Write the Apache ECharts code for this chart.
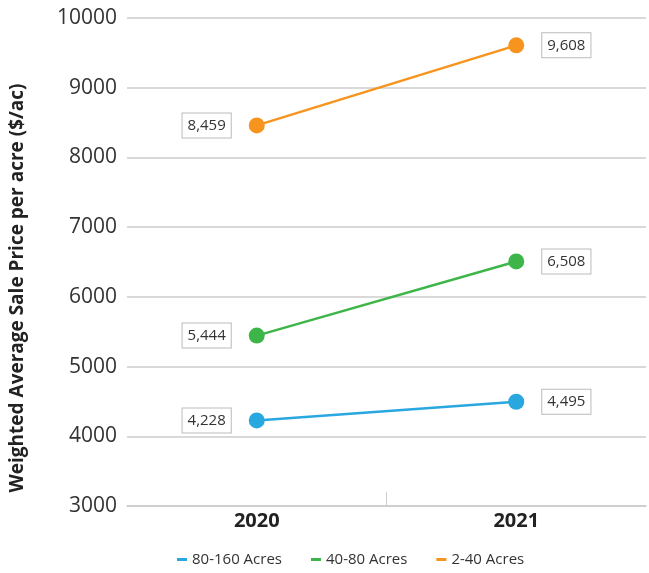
<!DOCTYPE html>
<html>
<head>
<meta charset="utf-8">
<script src="https://cdn.jsdelivr.net/npm/echarts@6/dist/echarts.min.js"></script>
<style>
  html, body { margin: 0; padding: 0; background: #fff; }
  #main { width: 649px; height: 573px; }
</style>
</head>
<body>
<div id="main"></div>
<script>
let years = ['2020', '2021'];
let seriesNames = ['80-160 Acres', '40-80 Acres', '2-40 Acres'];
let acres80to160 = [4228, 4495];
let acres40to80 = [5444, 6508];
let acres2to40 = [8459, 9608];
let yTicks = [3000, 10000, 1000]; // min, max, interval

let colors = ['#29A8E0', '#3DB549', '#F7941D'];
let fontFamily = '"Open Sans", sans-serif';

let chart = echarts.init(document.getElementById('main'), null, {renderer: 'canvas'});

let makeSeries = (name, values, color) => ({
    type: 'line',
    name: name,
    color: color,
    symbol: 'circle',
    symbolSize: 16,
    lineStyle: {width: 2.5, color: color},
    itemStyle: {color: color},
    label: {
        show: true,
        formatter: (p) => p.value.toLocaleString('en-US'),
        distance: 18,
        color: '#333',
        fontFamily: fontFamily,
        fontSize: 15,
        backgroundColor: '#fff',
        borderColor: '#bbb',
        borderWidth: 1,
        padding: [5, 5, 4, 5],
    },
    data: values.map((v, i) => ({
        value: v,
        label: {position: i === 0 ? 'left' : 'right'}
    })),
    z: 3
});

let option = {
    animation: false,
    grid: {
        top: 18,
        left: 127,
        right: 3,
        bottom: 67,
    },
    legend: {
        bottom: 1,
        left: 172,
        icon: 'rect',
        itemWidth: 10,
        itemHeight: 3,
        itemGap: 29,
        data: seriesNames,
        textStyle: {
            fontFamily: fontFamily,
            fontSize: 15,
            color: '#333',
        },
    },
    xAxis: [{
        type: 'category',
        data: years,
        axisLine: {show: true, lineStyle: {color: '#ccc', width: 1.5}},
        axisTick: {show: false},
        axisLabel: {
            color: '#222',
            fontFamily: fontFamily,
            fontWeight: 'bold',
            fontSize: 20,
            margin: 5,
        },
    }, {
        // only carries the single divider tick between the two years
        type: 'value',
        position: 'bottom',
        min: 0,
        max: 2,
        axisLine: {show: false},
        axisLabel: {show: false},
        splitLine: {show: false},
        axisTick: {
            show: true,
            inside: true,
            length: 14,
            customValues: [1],
            lineStyle: {color: '#ccc'}
        },
    }],
    yAxis: {
        type: 'value',
        min: yTicks[0],
        max: yTicks[1],
        interval: yTicks[2],
        name: 'Weighted Average Sale Price per acre ($/ac)',
        nameLocation: 'middle',
        nameGap: 100,
        nameTextStyle: {
            fontFamily: fontFamily,
            fontWeight: 'bold',
            fontSize: 19,
            color: '#222',
            padding: [0, 52, 0, 0],
        },
        axisLine: {show: false},
        axisTick: {show: false},
        axisLabel: {
            color: '#333',
            fontFamily: fontFamily,
            fontSize: 21,
            margin: 10,
            formatter: (v) => String(v),
        },
        splitLine: {lineStyle: {color: '#ccc', width: 1.5}},
    },
    series: [
        makeSeries(seriesNames[0], acres80to160, colors[0]),
        makeSeries(seriesNames[1], acres40to80, colors[1]),
        makeSeries(seriesNames[2], acres2to40, colors[2]),
    ],
};

chart.setOption(option);
window.addEventListener('resize', chart.resize);
</script>
</body>
</html>
